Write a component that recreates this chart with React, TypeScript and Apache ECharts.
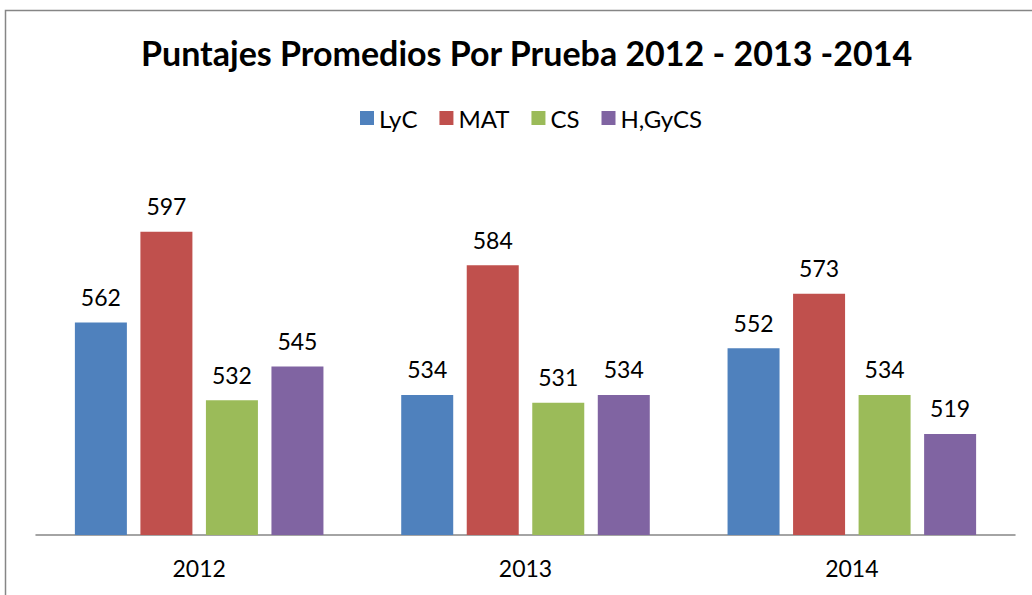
import React, { useEffect, useRef } from "react";
import * as echarts from "echarts";

const categories = ["2012", "2013", "2014"];
const seriesNames = ["LyC", "MAT", "CS", "H,GyCS"];
const lycValues = [562, 534, 552];
const matValues = [597, 584, 573];
const csValues = [532, 531, 534];
const hgycsValues = [545, 534, 519];
const colors = ["#4F81BD", "#C0504D", "#9BBB59", "#8064A2"];
const titleText = "Puntajes Promedios Por Prueba 2012 - 2013 -2014";

export default function App() {
  const ref = useRef<HTMLDivElement>(null);
  useEffect(() => {
    const chart = echarts.init(ref.current!, null, { renderer: "svg" });
    const allValues = [lycValues, matValues, csValues, hgycsValues];
    const font = "Lato";
    chart.setOption({
      animation: false,
      backgroundColor: "#ffffff",
      textStyle: { fontFamily: font },
      title: {
        text: titleText,
        left: 136,
        top: 30,
        textStyle: { fontFamily: font, fontSize: 34, fontWeight: "bold", color: "#000" },
      },
      legend: {
        data: seriesNames,
        top: 101,
        left: 355,
        itemWidth: 14,
        itemHeight: 14,
        itemGap: 22,
        icon: "rect",
        textStyle: { fontFamily: font, fontSize: 24, color: "#000" },
      },
      graphic: [
        {
          type: "rect",
          shape: { x: 5.5, y: 10.5, width: 1200, height: 800 },
          style: { fill: "none", stroke: "#868686", lineWidth: 1.5 },
          silent: true,
        },
      ],
      grid: { left: 36, right: 17, top: 172, bottom: 60, containLabel: false },
      xAxis: {
        type: "category",
        data: categories,
        axisTick: { show: false },
        axisLine: { lineStyle: { color: "#868686", width: 1.5 } },
        axisLabel: { fontFamily: font, fontSize: 23, color: "#000", margin: 21 },
      },
      yAxis: {
        type: "value",
        min: 480,
        max: 620,
        show: false,
        splitLine: { show: false },
      },
      series: seriesNames.map((name, i) => ({
        name,
        type: "bar",
        data: allValues[i],
        barWidth: 52,
        barGap: "26%",
        itemStyle: { color: colors[i] },
        label: {
          show: true,
          position: "top",
          distance: 14,
          fontFamily: font,
          fontSize: 23,
          color: "#000",
        },
      })),
    });
    return () => chart.dispose();
  }, []);
  return (
    <div
      ref={ref}
      style={{ position: "fixed", left: 0, top: 0, width: 1032, height: 595 }}
    />
  );
}
